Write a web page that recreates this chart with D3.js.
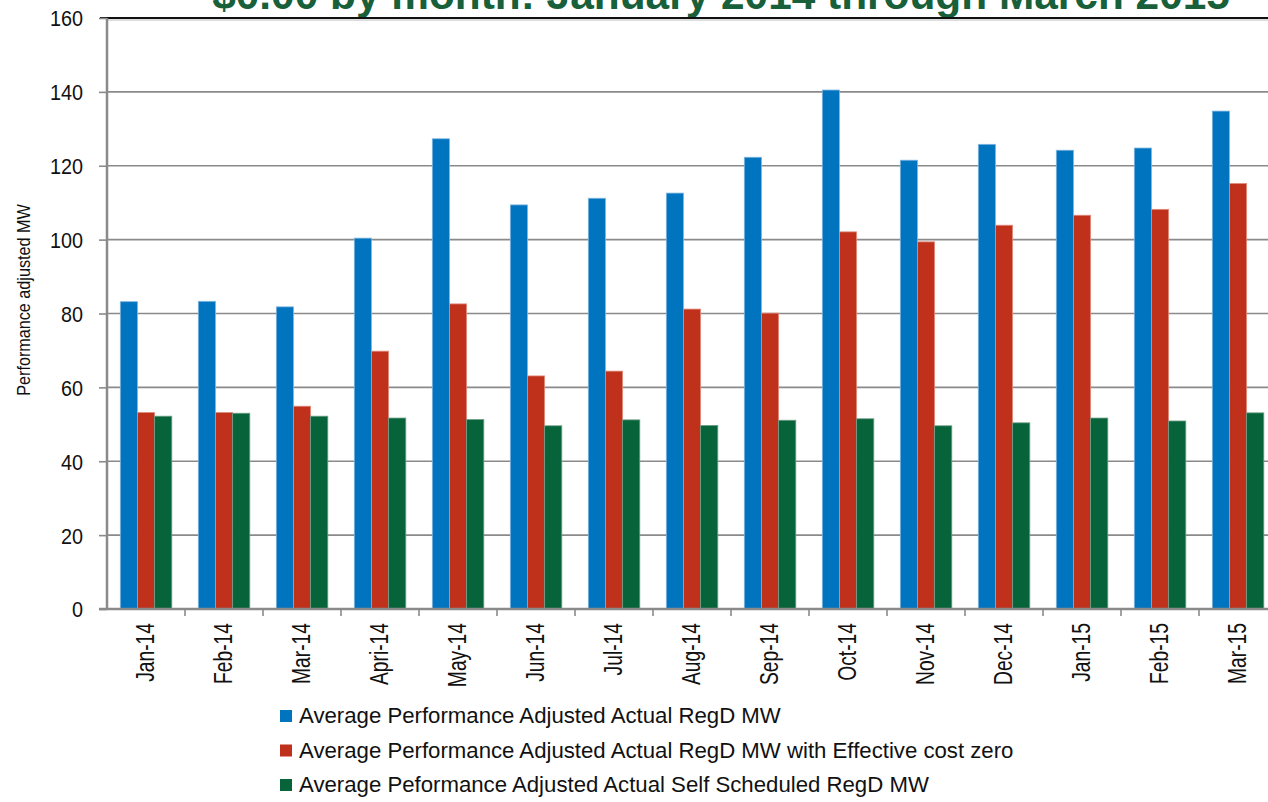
<!DOCTYPE html>
<html>
<head>
<meta charset="utf-8">
<script src="https://cdn.jsdelivr.net/npm/d3@7"></script>
<style>
  html, body { margin: 0; padding: 0; background: #fff; overflow: hidden; }
  svg { display: block; font-family: "Liberation Sans", Arial, sans-serif; }
</style>
</head>
<body>
<svg id="chart" width="1268" height="802"></svg>
<script>
const months = ["Jan-14","Feb-14","Mar-14","Apri-14","May-14","Jun-14","Jul-14","Aug-14","Sep-14","Oct-14","Nov-14","Dec-14","Jan-15","Feb-15","Mar-15"];
const seriesNames = [
  "Average Performance Adjusted Actual RegD MW",
  "Average Performance Adjusted Actual RegD MW with Effective cost zero",
  "Average Peformance Adjusted Actual Self Scheduled RegD MW"
];
const actualRegD   = [83.2, 83.3, 81.8, 100.4, 127.3, 109.4, 111.2, 112.6, 122.3, 140.5, 121.5, 125.8, 124.2, 124.8, 134.8];
const zeroCostRegD = [53.2, 53.2, 54.9, 69.8, 82.6, 63.1, 64.4, 81.2, 80.1, 102.1, 99.4, 103.9, 106.6, 108.2, 115.2];
const selfSchedRegD = [52.2, 53.0, 52.2, 51.7, 51.3, 49.6, 51.2, 49.7, 51.1, 51.5, 49.6, 50.4, 51.7, 50.9, 53.1];
const yTicks = [0, 20, 40, 60, 80, 100, 120, 140, 160];
const colors = ["#0074BF", "#C0311B", "#06633A"];
const strokes = ["#7fb6e0", "#e08c7f", "#6f9f84"];
const titleText = "$0.00 by month: January 2014 through March 2015";
const yTitle = "Performance adjusted MW";

const svg = d3.select("#chart");
const plotLeft = 107, catW = 78, plotTop = 18, plotBottom = 609;

const x0 = d3.scaleBand().domain(months).range([plotLeft, plotLeft + catW * months.length]).padding(0);
const x1 = d3.scaleBand().domain(d3.range(3)).range([13.3, 64.8]).padding(0);
const y = d3.scaleLinear().domain([0, 160]).range([plotBottom, plotTop]);

// title (clipped at top like the slide)
svg.append("text")
  .attr("x", 721).attr("y", 9)
  .attr("text-anchor", "middle")
  .attr("font-size", 42.4).attr("font-weight", "bold")
  .attr("fill", "#17603A")
  .text(titleText);

// gridlines
svg.append("g").selectAll("line")
  .data(yTicks.filter(d => d > 0 && d < 160))
  .join("line")
  .attr("x1", plotLeft).attr("x2", 1268)
  .attr("y1", d => y(d)).attr("y2", d => y(d))
  .attr("stroke", "#8a8a8a").attr("stroke-width", 1.6);

// top black rule at 160
svg.append("line")
  .attr("x1", 100).attr("x2", 1268)
  .attr("y1", y(160)).attr("y2", y(160))
  .attr("stroke", "#111").attr("stroke-width", 2);
svg.append("line")
  .attr("x1", 107).attr("x2", 1268)
  .attr("y1", y(160) + 2).attr("y2", y(160) + 2)
  .attr("stroke", "#bbb").attr("stroke-width", 1);

// bars
const data = months.map((m, i) => ({ m, vals: [actualRegD[i], zeroCostRegD[i], selfSchedRegD[i]] }));
const groups = svg.append("g").selectAll("g")
  .data(data).join("g")
  .attr("transform", d => `translate(${x0(d.m)},0)`);
groups.selectAll("rect")
  .data(d => d.vals.map((v, k) => ({ v, k })))
  .join("rect")
  .attr("x", d => x1(d.k))
  .attr("width", x1.bandwidth())
  .attr("y", d => y(d.v))
  .attr("height", d => y(0) - y(d.v))
  .attr("fill", d => colors[d.k])
  .attr("stroke", d => strokes[d.k])
  .attr("stroke-width", 0.8);

// y axis
const yAxis = svg.append("g")
  .attr("transform", `translate(${plotLeft},0)`)
  .call(d3.axisLeft(y).tickValues(yTicks).tickSize(8).tickPadding(16).tickFormat(d3.format("d")));
yAxis.select(".domain").attr("stroke", "#8a8a8a").attr("stroke-width", 2.5).attr("d", `M0,${plotTop}V${plotBottom}`);
yAxis.selectAll(".tick line").attr("stroke", "#8a8a8a").attr("stroke-width", 1.6);
yAxis.selectAll(".tick text")
  .attr("font-size", 22).attr("fill", "#111")
  .attr("font-family", "Liberation Sans, Arial, sans-serif")
  .attr("dy", "0.36em")
  .attr("transform", "translate(-24,0) scale(0.9,1) translate(24,0)");

// x axis line & ticks
const xAxis = svg.append("g").attr("transform", `translate(0,${plotBottom})`);
xAxis.append("line").attr("x1", plotLeft - 8).attr("x2", 1268).attr("y1", 0).attr("y2", 0)
  .attr("stroke", "#8a8a8a").attr("stroke-width", 2.5);
xAxis.selectAll("line.tk")
  .data(months.slice(1)).join("line").attr("class", "tk")
  .attr("x1", d => x0(d)).attr("x2", d => x0(d))
  .attr("y1", 0).attr("y2", 7)
  .attr("stroke", "#8a8a8a").attr("stroke-width", 1.6);
xAxis.selectAll("text")
  .data(months).join("text")
  .attr("transform", d => `translate(${x0(d) + catW / 2 + 8},14) rotate(-90) scale(0.74,1)`)
  .attr("text-anchor", "end")
  .attr("font-size", 26).attr("fill", "#111")
  .text(d => d);

// y title
svg.append("text")
  .attr("transform", `translate(30,300) rotate(-90) scale(0.9,1)`)
  .attr("text-anchor", "middle")
  .attr("font-size", 18).attr("fill", "#111")
  .text(yTitle);

// legend
const legend = svg.append("g");
const rows = legend.selectAll("g").data(seriesNames).join("g")
  .attr("transform", (d, i) => `translate(280,${710 + i * 34.5})`);
rows.append("rect").attr("width", 12).attr("height", 12).attr("fill", (d, i) => colors[i]);
rows.append("text").attr("x", 19).attr("y", 13).attr("font-size", 22.2).attr("fill", "#111").text(d => d);
</script>
</body>
</html>
